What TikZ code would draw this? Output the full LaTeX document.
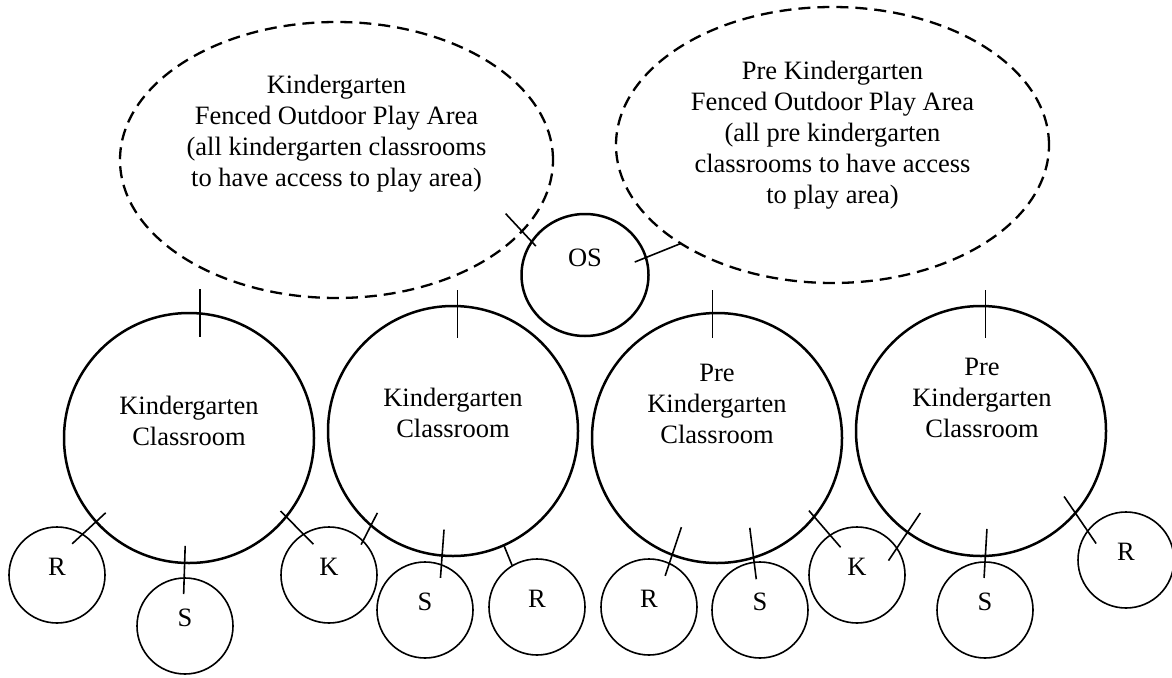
\documentclass[tikz,border=0pt]{standalone}
\usepackage{fontspec}
\setmainfont{Liberation Serif}
\usetikzlibrary{shapes.geometric}
\begin{document}
\begin{tikzpicture}[x=1pt, y=-1pt,
    every node/.style={font=\fontsize{26.5}{31}\selectfont, inner sep=0pt, outer sep=0pt},
    fence/.style={draw=black, ellipse, dash pattern=on 12pt off 7pt, line width=2.3pt,
                  minimum width=433pt, minimum height=276pt},
    room/.style={draw=black, circle, line width=2.5pt, minimum size=250pt},
    hub/.style={draw=black, ellipse, line width=2.5pt, minimum width=127pt,
                minimum height=122pt, text height=17.5pt, text depth=35.5pt},
    spot/.style={draw=black, circle, line width=1.6pt, minimum size=96pt,
                 text height=17.5pt, text depth=17.5pt},
    txt/.style={align=center},
    door/.style={line width=1.6pt}]
    \useasboundingbox (0, 0) rectangle (1172, 677);

    % play areas
    \draw (336.5, 160) node
          [fence] (kfence) {};
    \draw (336.5, 134) node
          [txt] (kfencetxt)
          {Kindergarten\\Fenced Outdoor Play Area\\(all kindergarten classrooms\\to have access to play area)};
    \draw (832.5, 145) node
          [fence] (pfence) {};
    \draw (832.5, 135) node
          [txt] (pfencetxt)
          {Pre Kindergarten\\Fenced Outdoor Play Area\\(all pre kindergarten\\classrooms to have access\\to play area)};
    \draw (585, 275) node
          [hub] (os) {OS};

    % classrooms
    \draw (189, 438) node [room] (kroom1) {};
    \draw (189, 420.5) node [txt] (kroom1txt) {Kindergarten\\Classroom};
    \draw (453, 431) node [room] (kroom2) {};
    \draw (453, 413) node [txt] (kroom2txt) {Kindergarten\\Classroom};
    \draw (717, 438) node [room] (proom1) {};
    \draw (717, 404) node [txt] (proom1txt) {Pre\\Kindergarten\\Classroom};
    \draw (981, 431) node [room] (proom2) {};
    \draw (982, 398) node [txt] (proom2txt) {Pre\\Kindergarten\\Classroom};

    % small rooms
    \draw (57, 575) node [spot] (r1) {R};
    \draw (185, 626) node [spot] (s1) {S};
    \draw (329, 575) node [spot] (k1) {K};
    \draw (425, 610) node [spot] (s2) {S};
    \draw (537, 607) node [spot] (r2) {R};
    \draw (649, 607) node [spot] (r3) {R};
    \draw (760, 610) node [spot] (s3) {S};
    \draw (857, 575) node [spot] (k2) {K};
    \draw (985, 610) node [spot] (s4) {S};
    \draw (1126, 560) node [spot] (r4) {R};

    % doors
    \draw [door] ([yshift=24pt]kroom1.85) -- ([yshift=-24pt]kroom1.85);
    \draw [door] ([yshift=16pt]kroom2.88) -- ([yshift=-32pt]kroom2.88);
    \draw [door] ([yshift=23pt]proom1.92) -- ([yshift=-25pt]proom1.92);
    \draw [door] ([yshift=16pt]proom2.88) -- ([yshift=-32pt]proom2.88);
    \draw [door, shorten <=-24pt, shorten >=-6pt] (kfence.339) -- (os.148);
    \draw [door, shorten <=-12pt] (os.16) -- (pfence.213);
    \draw [door, shorten <=-14pt, shorten >=-13pt] (r1.58) -- (kroom1.222);
    \draw [door, shorten <=-16pt, shorten >=-17pt] (s1.91) -- (kroom1.268);
    \draw [door, shorten <=-8pt, shorten >=-14pt] (kroom1.321) -- (k1.122);
    \draw [door, shorten <=-4pt, shorten >=-14pt] (k1.45) -- (kroom2.229);
    \draw [door, shorten <=-13pt, shorten >=-26pt] (s2.70) -- (kroom2.265);
    \draw [door] (kroom2.294) -- (r2.121);
    \draw [door, shorten <=-29pt, shorten >=-13pt] (proom1.249) -- (r3.65);
    \draw [door, shorten <=-30pt, shorten >=-17pt] (proom1.287) -- (s3.97);
    \draw [door, shorten <=-8pt, shorten >=-16pt] (proom1.321) -- (k2.124);
    \draw [door, shorten <=-15pt, shorten >=-23pt] (k2.34) -- (proom2.234);
    \draw [door, shorten <=-16pt, shorten >=-27pt] (s4.north) -- (proom2.272);
    \draw [door, shorten <=-20pt, shorten >=-15pt] (proom2.319) -- (r4.143);
\end{tikzpicture}
\end{document}
